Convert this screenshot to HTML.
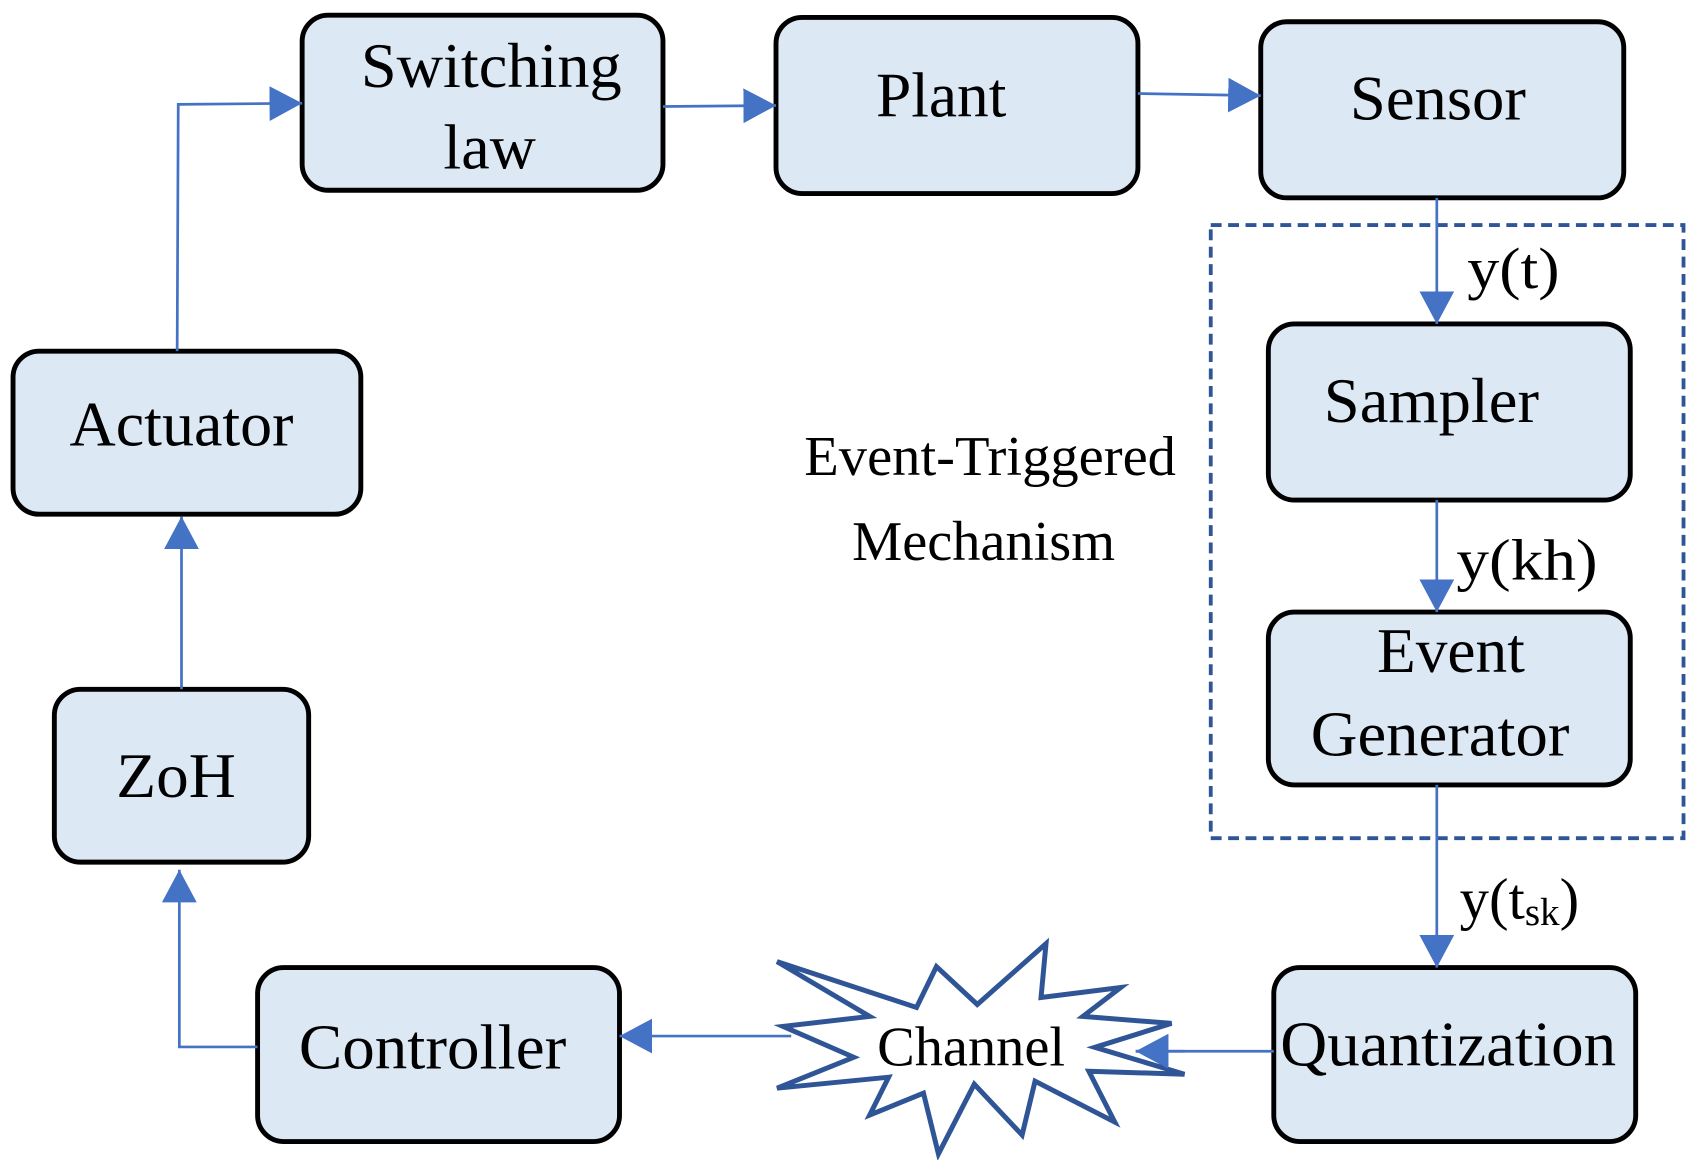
<!DOCTYPE html>
<html><head><meta charset="utf-8"><style>html,body{margin:0;padding:0;background:#fff}svg{display:block}</style></head>
<body>
<svg width="1702" height="1160" viewBox="0 0 1566 1067" preserveAspectRatio="none" xmlns="http://www.w3.org/2000/svg" font-family="'Liberation Serif', serif">
<defs>
<marker id="b" markerWidth="30" markerHeight="32" refX="30" refY="16" orient="auto" markerUnits="userSpaceOnUse"><path d="M0,0L30,16L0,32z" fill="#4472c4"/></marker></defs>
<g fill="#dde8f5" stroke="#000" stroke-width="4.5">
<rect x="278" y="14" width="332" height="161" rx="24"/>
<rect x="714" y="16" width="333" height="162" rx="24"/>
<rect x="1160" y="20" width="334" height="162" rx="24"/>
<rect x="1167" y="298" width="333" height="162" rx="24"/>
<rect x="1167" y="563" width="333" height="159" rx="24"/>
<rect x="1172" y="890" width="333" height="160" rx="24"/>
<rect x="237" y="890" width="333" height="160" rx="24"/>
<rect x="50" y="634" width="234" height="159" rx="24"/>
<rect x="12" y="323" width="320" height="150" rx="24"/>
</g>
<rect x="1114" y="207" width="435" height="564" fill="none" stroke="#2f5597" stroke-width="3.5" stroke-dasharray="10,6"/>
<g stroke="#4472c4" stroke-width="2.5" fill="none">
<polyline points="163,323 164,96 278,95" marker-end="url(#b)"/>
<line x1="610" y1="98" x2="714" y2="97" marker-end="url(#b)"/>
<line x1="1047" y1="86" x2="1160" y2="88" marker-end="url(#b)"/>
<line x1="1322" y1="182" x2="1322" y2="298" marker-end="url(#b)"/>
<line x1="1322" y1="460" x2="1322" y2="563" marker-end="url(#b)"/>
<line x1="1322" y1="722" x2="1322" y2="890" marker-end="url(#b)"/>
<line x1="1172" y1="967" x2="1045" y2="967" marker-end="url(#b)"/>
<line x1="728" y1="953" x2="570" y2="953" marker-end="url(#b)"/>
<polyline points="237,963 165,963 165,800" marker-end="url(#b)"/>
<line x1="167" y1="634" x2="167" y2="475" marker-end="url(#b)"/>
</g>
<g transform="scale(0.9166)"><polygon fill="#fff" stroke="#2f5597" stroke-width="5" points="780,965 920,1011 940,970 981,1008 1050,947 1045,1001 1125,991 1087,1020 1176,1027 1099,1051 1189,1078 1093,1075 1119,1126 1039,1085 1026,1139 978,1088 942,1158 927,1097 873,1119 892,1081 780,1092 857,1061 786,1030 873,1020"/></g>
<line x1="1090" y1="967" x2="1045" y2="967" stroke="#4472c4" stroke-width="2.5" marker-end="url(#b)"/>
<g font-size="58" fill="#000" lengthAdjust="spacingAndGlyphs">
<text x="332" y="80" textLength="240" lengthAdjust="spacingAndGlyphs">Switching</text>
<text x="408" y="155" textLength="85" lengthAdjust="spacingAndGlyphs">law</text>
<text x="806" y="107" textLength="120" lengthAdjust="spacingAndGlyphs">Plant</text>
<text x="1242" y="110" textLength="162" lengthAdjust="spacingAndGlyphs">Sensor</text>
<text x="1218" y="388" textLength="198" lengthAdjust="spacingAndGlyphs">Sampler</text>
<text x="1267" y="618" textLength="136" lengthAdjust="spacingAndGlyphs">Event</text>
<text x="1206" y="695" textLength="238" lengthAdjust="spacingAndGlyphs">Generator</text>
<text x="1178" y="980" textLength="309" lengthAdjust="spacingAndGlyphs">Quantization</text>
<text x="275" y="983" textLength="246" lengthAdjust="spacingAndGlyphs">Controller</text>
<text x="107" y="733" textLength="110" lengthAdjust="spacingAndGlyphs">ZoH</text>
<text x="64" y="410" textLength="206" lengthAdjust="spacingAndGlyphs">Actuator</text>
<text x="740" y="437" font-size="52" textLength="342" lengthAdjust="spacingAndGlyphs">Event-Triggered</text>
<text x="784" y="515" font-size="52" textLength="242" lengthAdjust="spacingAndGlyphs">Mechanism</text>
<text x="807" y="980" font-size="52" textLength="173" lengthAdjust="spacingAndGlyphs">Channel</text>
<text x="1350" y="265" font-size="54" textLength="85" lengthAdjust="spacingAndGlyphs">y(t)</text>
<text x="1340" y="533" font-size="54" textLength="130" lengthAdjust="spacingAndGlyphs">y(kh)</text>
<text x="1343" y="845" font-size="54">y(t<tspan font-size="36" dy="6">sk</tspan><tspan dy="-6">)</tspan></text>
</g>
</svg>
</body></html>
